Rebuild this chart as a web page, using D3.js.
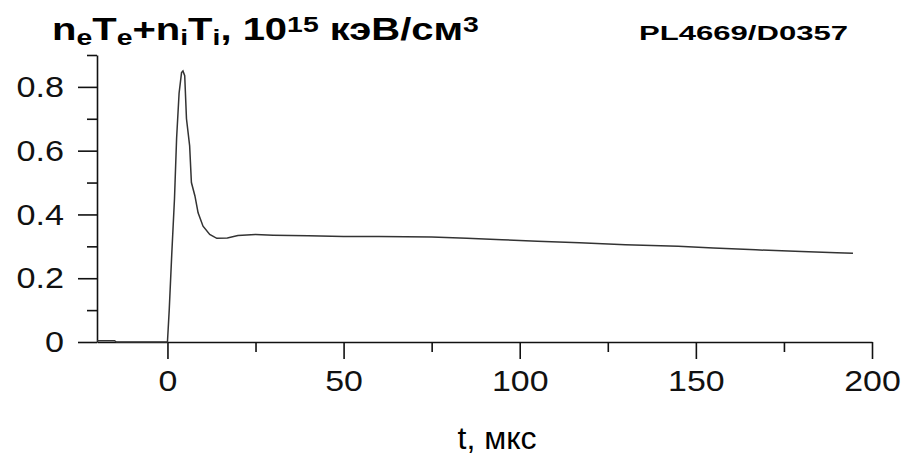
<html>
    <head>
        <meta charset="utf-8">
        <title>PL4669/D0357</title>
        <style type="text/css">
        body{margin:0;background:#fff;}
        svg{font-family:"Liberation Sans",Arial,sans-serif;}
        .axis path,.axis line{stroke:#111;stroke-width:1.6;}
        .axis text{fill:#111;font-size:30px;font-family:"Liberation Sans",Arial,sans-serif;}
        </style>
        <script src="https://d3js.org/d3.v7.min.js"></script>
    </head>
    <body>
    	<svg width="907" height="459"></svg>
    	<script>
		// data
		var time = [-20, -15, -14.5, -10, -5, 0, 0.5, 1.2, 2, 2.6, 3.3, 4, 4.4, 4.9, 5.4, 6.3, 6.8, 7.8, 8.7, 10.1, 12, 14, 17, 20, 25, 30, 40, 50, 60, 75, 85, 95, 105, 117, 130, 145, 155, 167, 180, 190, 194.6];
		var press = [0.004, 0.004, 0, 0, 0, 0, 0.1, 0.27, 0.45, 0.64, 0.78, 0.845, 0.85, 0.835, 0.70, 0.615, 0.50, 0.458, 0.405, 0.363, 0.337, 0.325, 0.326, 0.334, 0.337, 0.335, 0.333, 0.331, 0.331, 0.329, 0.325, 0.321, 0.316, 0.311, 0.305, 0.300, 0.295, 0.289, 0.284, 0.280, 0.278];
		var xMajor = [0, 50, 100, 150, 200],
		    xMinor = [25, 75, 125, 175],
		    yMajor = [0, 0.2, 0.4, 0.6, 0.8],
		    yMinor = [0.1, 0.3, 0.5, 0.7, 0.9];

		var svg = d3.select("svg"),
		    margin = {top: 55, right: 35, bottom: 117, left: 97},
		    width = +svg.attr("width")-margin.left-margin.right,
		    height = +svg.attr("height")-margin.top-margin.bottom,
		    g = svg.append("g").attr("transform",`translate(${margin.left},${margin.top})`);

		var xScale = d3.scaleLinear().domain([-20,200]).range([0,width]);
		var yScale = d3.scaleLinear().domain([0,0.9]).range([height,0]);

		// widen glyphs a little, like the original raster
		function stretch(sel, sx){
			sel.selectAll("text").each(function(){
				var t = d3.select(this), x = +t.attr("x") || 0;
				t.attr("x",0).attr("transform",`translate(${x},0) scale(${sx},1)`);
			});
		}

		// x axis
		g.append("g").attr("class","axis")
			.attr("transform",`translate(0,${height})`)
			.call(d3.axisBottom(xScale).tickValues(xMinor).tickSize(10).tickSizeOuter(0).tickFormat(""));
		var xa = g.append("g").attr("class","axis")
			.attr("transform",`translate(0,${height})`)
			.call(d3.axisBottom(xScale).tickValues(xMajor).tickSize(17).tickSizeOuter(0).tickPadding(11).tickFormat(d3.format("d")));
		xa.select(".domain").remove();
		stretch(xa, 1.13);

		// y axis
		g.append("g").attr("class","axis")
			.call(d3.axisLeft(yScale).tickValues(yMinor).tickSize(10).tickSizeOuter(0).tickFormat(""));
		var ya = g.append("g").attr("class","axis")
			.call(d3.axisLeft(yScale).tickValues(yMajor).tickSize(19).tickSizeOuter(0).tickPadding(14).tickFormat(d=>d===0?"0":d3.format(".1f")(d)));
		ya.select(".domain").remove();
		stretch(ya, 1.14);

		// line
		var line = d3.line()
			.x((d,i)=>xScale(time[i]))
			.y(d=>yScale(d));
		g.append("path")
			.datum(press)
			.attr("fill","none")
			.attr("stroke","#333")
			.attr("stroke-width",1.5)
			.attr("d",line);

		// x label
		svg.append("text")
			.attr("x",497).attr("y",449)
			.attr("text-anchor","middle")
			.style("font-size","32px")
			.text("t, мкс");

		// title
		var title = svg.append("text")
			.attr("transform","translate(52,40) scale(1.29,1)")
			.style("font-size","31px")
			.style("font-weight","bold");
		var parts = [["n",""],["e","sub"],["T",""],["e","sub"],["+n",""],["i","sub"],["T",""],["i","sub"],[", 10",""],["15","sup"],[" кэВ/см",""],["3","sup"]];
		parts.forEach(function(p){
			var ts = title.append("tspan").text(p[0]);
			if(p[1]==="sub") ts.attr("baseline-shift","-22%").style("font-size","22px");
			if(p[1]==="sup") ts.attr("baseline-shift","38%").style("font-size","22px");
		});

		svg.append("text")
			.attr("transform","translate(848,40) scale(1.48,1)")
			.attr("text-anchor","end")
			.style("font-size","21px")
			.style("font-weight","bold")
			.text("PL4669/D0357");
    	</script>
  </body>
</html>
